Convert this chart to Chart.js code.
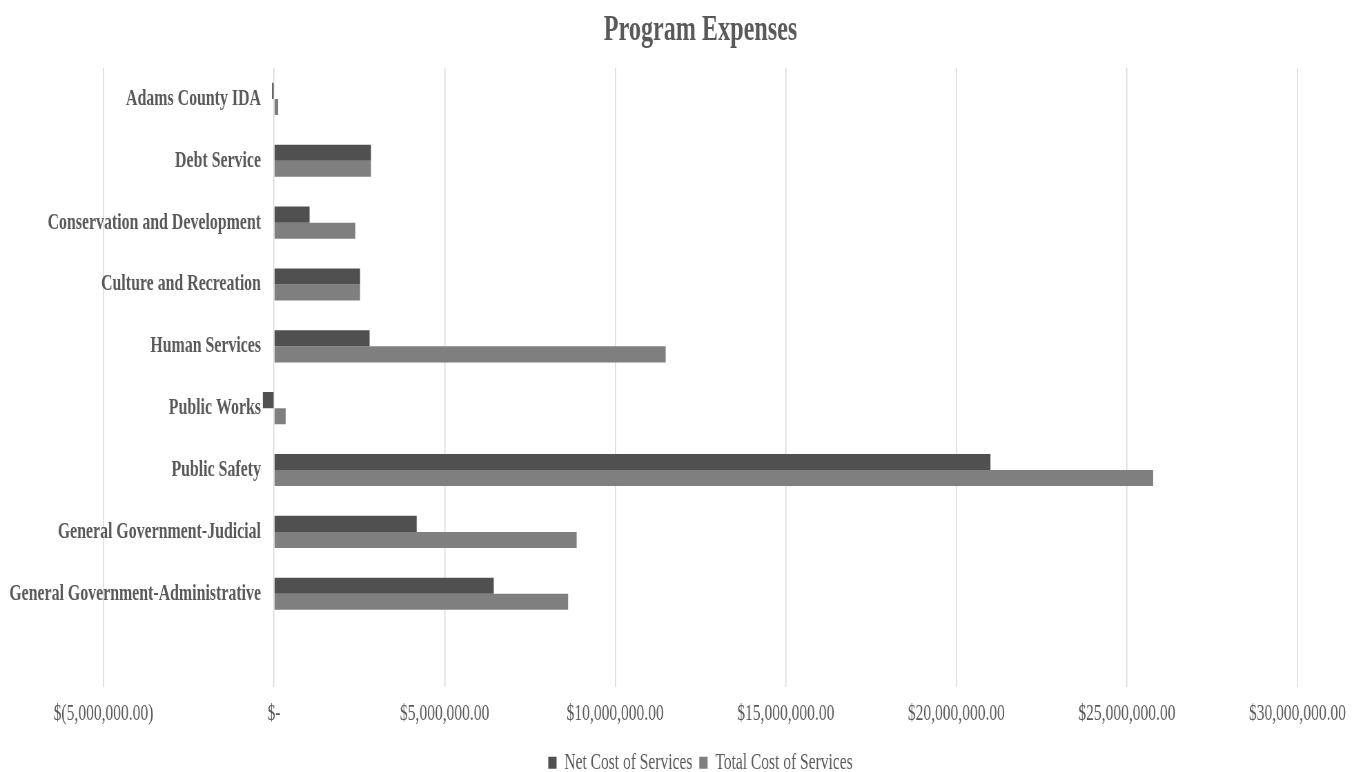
<!DOCTYPE html>
<html>
<head>
<meta charset="utf-8">
<script src="https://cdn.jsdelivr.net/npm/chart.js@4.4.0/dist/chart.umd.min.js"></script>
<style>
  html, body { margin: 0; padding: 0; background: #fff; overflow: hidden; }
  #chart { display: block; }
</style>
</head>
<body>
<!-- drawn wide, shown squeezed like the original -->
<canvas id="chart" width="1975" height="772" style="width:1363px;height:772px"></canvas>
<script>
const categories = [
  "Adams County IDA",
  "Debt Service",
  "Conservation and Development",
  "Culture and Recreation",
  "Human Services",
  "Public Works",
  "Public Safety",
  "General Government-Judicial",
  "General Government-Administrative",
  "",
];
const netCost = [-60000, 2840000, 1040000, 2520000, 2800000, -330000, 21000000, 4180000, 6440000, null];
const totalCost = [120000, 2840000, 2380000, 2520000, 11480000, 340000, 25770000, 8870000, 8620000, null];
const xTicks = [-5000000, 0, 5000000, 10000000, 15000000, 20000000, 25000000, 30000000];

const textColor = "#595959";
const gridColor = "#d9d9d9";
const labelFont = { family: "Liberation Serif", size: 23, weight: "bold" };

function money(v) {
  if (v === 0) return "$-";
  const s = Math.abs(v).toLocaleString("en-US", { minimumFractionDigits: 2, maximumFractionDigits: 2 });
  return v < 0 ? "$(" + s + ")" : "$" + s;
}

// category names sit just left of the zero line, like Excel does
const zeroLabels = {
  id: "zeroLabels",
  afterDatasetsDraw(chart) {
    const { ctx, scales } = chart;
    const x0 = scales.x.getPixelForValue(0) - 19;
    ctx.save();
    ctx.font = Chart.helpers.toFont(labelFont).string;
    ctx.fillStyle = textColor;
    ctx.textAlign = "right";
    ctx.textBaseline = "middle";
    categories.forEach((name, i) => {
      if (name) ctx.fillText(name, x0, scales.y.getPixelForValue(i));
    });
    ctx.restore();
  },
};

const ctx = document.getElementById("chart");

new Chart(ctx, {
  type: "bar",
  data: {
    labels: categories,
    datasets: [
      {
        label: "Net Cost of Services",
        data: netCost,
        backgroundColor: "#505050",
        barPercentage: 1,
        categoryPercentage: 0.52,
      },
      {
        label: "Total Cost of Services",
        data: totalCost,
        backgroundColor: "#7f7f7f",
        barPercentage: 1,
        categoryPercentage: 0.52,
      },
    ],
  },
  options: {
    indexAxis: "y",
    responsive: false,
    animation: false,
    layout: { padding: { left: 150, right: 95, top: 4, bottom: -12 } },
    scales: {
      x: {
        min: xTicks[0],
        max: xTicks[xTicks.length - 1],
        afterBuildTicks: (axis) => { axis.ticks = xTicks.map((v) => ({ value: v })); },
        grid: { color: gridColor, lineWidth: 1.5, drawTicks: false },
        border: { display: false },
        ticks: {
          color: textColor,
          padding: 14,
          maxRotation: 0,
          font: { family: "Liberation Serif", size: 22.5 },
          callback: (v) => money(v),
        },
      },
      y: {
        position: { x: 0 },
        grid: { display: false },
        border: { display: false },
        ticks: { display: false },
      },
    },
    plugins: {
      title: {
        display: true,
        text: "Program Expenses",
        color: textColor,
        padding: { top: 6, bottom: 16 },
        font: { family: "Liberation Serif", size: 35, weight: "bold" },
      },
      legend: {
        position: "bottom",
        labels: {
          color: textColor,
          boxWidth: 12,
          boxHeight: 12,
          padding: 10,
          font: { family: "Liberation Serif", size: 22.5 },
        },
      },
      tooltip: { enabled: false },
    },
  },
  plugins: [zeroLabels],
});
</script>
</body>
</html>
